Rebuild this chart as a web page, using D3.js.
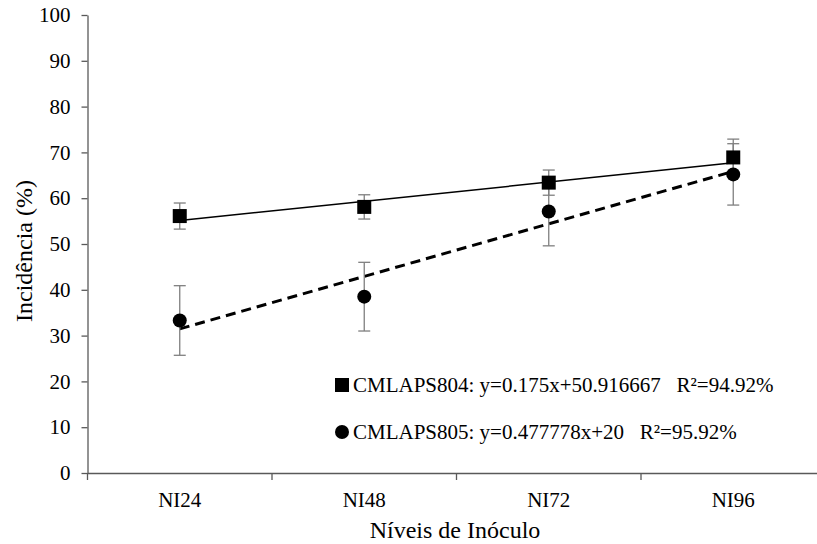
<!DOCTYPE html>
<html>
<head>
<meta charset="utf-8">
<script src="https://cdn.jsdelivr.net/npm/d3@7"></script>
<style>
  body { margin: 0; background: #fff; }
</style>
</head>
<body>
<script>
// data
const categories = ['NI24', 'NI48', 'NI72', 'NI96'];
const levels = [24, 48, 72, 96];
const cml804 = [56.1, 58.1, 63.4, 68.9];
const err804 = [2.85, 2.65, 2.75, 4.0];
const cml805 = [33.3, 38.5, 57.1, 65.2];
const err805 = [7.6, 7.5, 7.5, 6.7];
const trendSlope = [0.175, 0.477778];
const trendIntercept = [50.916667, 20];
const legendLabels = [
  'CMLAPS804: y=0.175x+50.916667   R\u00b2=94.92%',
  'CMLAPS805: y=0.477778x+20   R\u00b2=95.92%'
];
const yTicks = [0, 10, 20, 30, 40, 50, 60, 70, 80, 90, 100];

const w = 817;
const h = 544;
const mLeft = 87.5, mTop = 15, mBottom = 473;
const serif = '"Liberation Serif", "DejaVu Serif", serif';

const svg = d3.select('body')
              .append('svg')
              .attr('width', w)
              .attr('height', h)
              .style('font-family', serif);

const x = d3.scaleBand()
            .domain(categories)
            .range([mLeft, mLeft + 4 * 184.5]);
const y = d3.scaleLinear()
            .domain([0, 100])
            .range([mBottom, mTop]);

const cx = d => x(d) + x.bandwidth() / 2;

// y axis
const yAxis = d3.axisLeft(y)
                .tickValues(yTicks)
                .tickSize(6)
                .tickPadding(11)
                .tickSizeOuter(0);
const gy = svg.append('g')
   .attr('transform', `translate(${mLeft},0)`)
   .call(yAxis)
   .attr('font-family', null);
gy.selectAll('line, path').attr('stroke', '#595959').attr('stroke-width', 1.3);
gy.selectAll('text').style('font-size', '21px').style('font-family', serif).attr('fill', '#000');

// x axis: labels centred, ticks on band edges
const xAxis = d3.axisBottom(x).tickSize(0).tickPadding(19).tickSizeOuter(0);
const gx = svg.append('g')
   .attr('transform', `translate(0,${mBottom})`)
   .call(xAxis)
   .attr('font-family', null);
gx.select('path').attr('stroke', '#595959').attr('stroke-width', 1.3);
gx.selectAll('text').style('font-size', '21px').style('font-family', serif).attr('fill', '#000');
gx.selectAll('.edge')
  .data(categories)
  .enter()
  .append('line')
  .attr('class', 'edge')
  .attr('x1', d => x(d)).attr('x2', d => x(d))
  .attr('y1', 0).attr('y2', 7)
  .attr('stroke', '#595959').attr('stroke-width', 1.3);

// axis titles
svg.append('text')
   .attr('x', 455).attr('y', 538)
   .attr('text-anchor', 'middle')
   .style('font-size', '24px')
   .text('Níveis de Inóculo');
svg.append('text')
   .attr('transform', 'translate(32,251) rotate(-90)')
   .attr('text-anchor', 'middle')
   .style('font-size', '24px')
   .text('Incidência (%)');

// trend lines
const first = 0, last = categories.length - 1;
[0, 1].forEach(i => {
  svg.append('line')
     .attr('x1', cx(categories[first]))
     .attr('y1', y(trendSlope[i] * levels[first] + trendIntercept[i]))
     .attr('x2', cx(categories[last]))
     .attr('y2', y(trendSlope[i] * levels[last] + trendIntercept[i]))
     .attr('stroke', '#000')
     .attr('stroke-width', i === 0 ? 1.5 : 3)
     .attr('stroke-dasharray', i === 0 ? null : '10,6');
});

// error bars
function errorBars(vals, errs) {
  const g = svg.append('g').attr('stroke', '#7f7f7f').attr('stroke-width', 1.3);
  categories.forEach((c, i) => {
    const xc = cx(c);
    const y1 = y(vals[i] + errs[i]), y0 = y(vals[i] - errs[i]);
    g.append('line').attr('x1', xc).attr('x2', xc).attr('y1', y1).attr('y2', y0);
    g.append('line').attr('x1', xc - 6).attr('x2', xc + 6).attr('y1', y1).attr('y2', y1);
    g.append('line').attr('x1', xc - 6).attr('x2', xc + 6).attr('y1', y0).attr('y2', y0);
  });
}
errorBars(cml804, err804);
errorBars(cml805, err805);

// markers
svg.selectAll('.sq')
   .data(cml804)
   .enter()
   .append('rect')
   .attr('class', 'sq')
   .attr('x', (d, i) => cx(categories[i]) - 7)
   .attr('y', d => y(d) - 7)
   .attr('width', 14).attr('height', 14)
   .attr('fill', '#000');
svg.selectAll('.dot')
   .data(cml805)
   .enter()
   .append('circle')
   .attr('class', 'dot')
   .attr('cx', (d, i) => cx(categories[i]))
   .attr('cy', d => y(d))
   .attr('r', 7)
   .attr('fill', '#000');

// legend
const legend = svg.append('g').attr('id', 'legend');
legend.append('rect')
      .attr('x', 335).attr('y', 378).attr('width', 14).attr('height', 14)
      .attr('fill', '#000');
legend.append('circle')
      .attr('cx', 342).attr('cy', 432).attr('r', 7)
      .attr('fill', '#000');
legend.selectAll('.lab')
      .data(legendLabels)
      .enter()
      .append('text')
      .attr('class', 'lab')
      .attr('x', 353)
      .attr('y', (d, i) => 392 + i * 47)
      .attr('xml:space', 'preserve')
      .style('white-space', 'pre')
      .style('font-size', '21px')
      .text(d => d);
</script>
</body>
</html>
